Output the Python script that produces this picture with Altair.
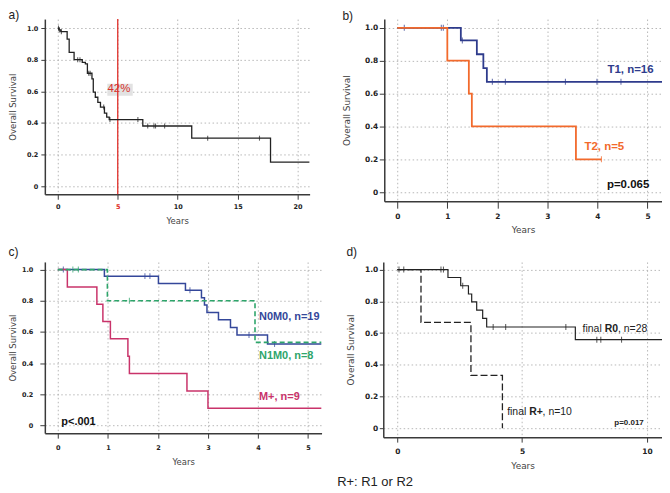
import altair as alt
import pandas as pd

# ---------------- data ----------------
Y_TICKS = [0, 0.2, 0.4, 0.6, 0.8, 1.0]

# panel a (all patients)
A_TIME = [0, 0.1, 0.25, 0.78, 0.95, 1.36, 2.04, 2.3, 2.47, 2.85, 2.96, 3.13, 3.34, 3.56, 3.89, 4.08, 4.29, 7.09, 11.17, 17.74, 21.0]
A_SURV = [1.0, 0.988, 0.977, 0.93, 0.846, 0.80, 0.783, 0.773, 0.714, 0.678, 0.594, 0.562, 0.53, 0.50, 0.461, 0.436, 0.421, 0.38, 0.303, 0.152, 0.152]
A_CENSOR = [0.06, 0.14, 0.3, 1.66, 1.85, 2.58, 2.7, 3.83, 4.35, 6.68, 7.5, 8.02, 8.15, 8.91, 12.5, 16.82]
A_REF_YEAR = [5]
A_REF_TEXT = ["42%"]
A_REF_POS = [5.1, 0.612]
A_REF_BOX = [4.13, 6.25, 0.572, 0.648]

# panel b (T stage)
T1_TIME = [0, 1.27, 1.59, 1.72, 1.79, 5.29]
T1_SURV = [1.0, 0.923, 0.839, 0.755, 0.671, 0.671]
T1_CENSOR = [0.14, 0.88, 0.92, 1.3, 1.9, 2.16, 3.36, 3.99, 4.47]
T2_TIME = [0, 1.0, 1.43, 1.49, 3.57, 4.08]
T2_SURV = [1.0, 0.8, 0.6, 0.4, 0.2, 0.2]
T2_CENSOR = [4.08]
B_TEXT = ["T1, n=16", "T2, n=5", "p=0.065"]
B_TEXT_X = [4.2, 3.74, 4.19]
B_TEXT_Y = [0.743, 0.273, 0.046]

# panel c (N/M stage)
N0_TIME = [0, 0.93, 2.01, 2.55, 2.87, 2.93, 2.98, 3.21, 3.45, 3.58, 4.19, 5.27]
N0_SURV = [1.0, 0.958, 0.911, 0.867, 0.82, 0.773, 0.725, 0.678, 0.629, 0.58, 0.523, 0.523]
N0_CENSOR = [0.11, 1.74, 1.84, 2.64, 3.82, 4.33]
N1_TIME = [0, 0.99, 3.94, 5.27]
N1_SURV = [1.0, 0.8, 0.533, 0.533]
N1_CENSOR = [0.3, 0.41, 1.43]
MP_TIME = [0, 0.19, 0.78, 0.9, 1.05, 1.40, 1.43, 2.58, 3.0, 5.27]
MP_SURV = [1.0, 0.889, 0.778, 0.667, 0.556, 0.444, 0.333, 0.222, 0.111, 0.111]
MP_CENSOR = []
C_TEXT = ["N0M0, n=19", "N1M0, n=8", "M+, n=9", "p<.001"]
C_TEXT_X = [4.02, 4.02, 4.02, 0.07]
C_TEXT_Y = [0.699, 0.445, 0.18, 0.025]

# panel d (resection status)
R0_TIME = [0, 2.03, 2.54, 2.85, 2.98, 3.18, 3.42, 3.58, 7.13, 10.6]
R0_SURV = [1.0, 0.95, 0.898, 0.846, 0.796, 0.744, 0.692, 0.638, 0.558, 0.558]
R0_CENSOR = [0.07, 0.26, 1.75, 1.85, 2.62, 3.84, 4.34, 6.75, 7.99, 8.15, 8.98]
RP_TIME = [0, 0.95, 2.95, 4.21]
RP_SURV = [1.0, 0.667, 0.333, 0.0]
RP_CENSOR = []
D_TEXT = [["final ", "R0", ", n=28"], ["final ", "R+", ", n=10"]]
D_TEXT_X = [7.42, 4.40]
D_TEXT_Y = [0.625, 0.104]
D_P_TEXT = ["p=0.017"]
D_P_POS = [9.87, 0.031]

FOOTNOTE = "R+: R1 or R2"

# ---------------- styling helpers ----------------
AX = "#3a3a3a"
GRID = dict(grid=True, gridDash=[1.5, 2.5], gridColor="#b0b0b0", gridWidth=0.9)
TXT_FONT = "Liberation Sans"


def step_value(times, surv, t):
    v = surv[0]
    for ti, si in zip(times, surv):
        if ti <= t:
            v = si
    return v


def y_axis(lab, tick, pad, ext, tp, tsize):
    return alt.Axis(values=Y_TICKS,
                    labelExpr="datum.value == 0 ? '0' : format(datum.value, '.1f')",
                    title="Overall Survival", titleFont="DejaVu Sans", titleFontSize=tsize,
                    titleFontWeight="normal", titleColor="#444",
                    labelFont="DejaVu Sans", labelFontSize=lab, labelFontWeight="bold",
                    labelColor="#222", tickSize=tick, tickColor=AX, tickWidth=1,
                    domainColor=AX, domainWidth=1.5, labelPadding=pad, titlePadding=tp,
                    minExtent=ext, maxExtent=ext, **GRID)


def x_axis(vals, lab, tick, pad, tp, tsize, label_color="#222"):
    return alt.Axis(values=vals, format="d", title="Years", titleFont="DejaVu Sans",
                    titleFontSize=tsize, titleFontWeight="normal", titleColor="#444",
                    labelFont="DejaVu Sans", labelFontSize=lab, labelFontWeight="bold",
                    labelColor=label_color, tickSize=tick, tickColor=AX, tickWidth=1,
                    domainColor=AX, domainWidth=1.5, labelPadding=pad, titlePadding=tp,
                    **GRID)


class Panel:
    def __init__(self, xdom, ydom, xax, yax):
        self.xs = alt.Scale(domain=xdom, nice=False, zero=False)
        self.ys = alt.Scale(domain=ydom, nice=False, zero=False)
        self.xax = xax
        self.yax = yax

    def x(self, f="t"):
        return alt.X(f"{f}:Q", scale=self.xs, axis=self.xax)

    def y(self, f="s"):
        return alt.Y(f"{f}:Q", scale=self.ys, axis=self.yax)

    def km(self, times, surv, censor, color, width=1.4, dash=None, tick=6):
        line_df = pd.DataFrame({"t": times, "s": surv})
        lk = dict(interpolate="step-after", color=color, strokeWidth=width, clip=True)
        if dash:
            lk["strokeDash"] = dash
        layers = [alt.Chart(line_df).mark_line(**lk).encode(x=self.x(), y=self.y())]
        if censor:
            cdf = pd.DataFrame({"t": censor, "s": [step_value(times, surv, c) for c in censor]})
            layers.append(alt.Chart(cdf).mark_tick(orient="vertical", color=color, size=tick,
                                                   thickness=1.1).encode(x=self.x(), y=self.y()))
        return layers

    def text(self, txt, t, s, color, size, weight="bold", align="left", dx=0, font=TXT_FONT):
        df = pd.DataFrame({"t": [t], "s": [s], "txt": [txt]})
        return alt.Chart(df).mark_text(align=align, baseline="middle", color=color,
                                       fontSize=size, fontWeight=weight, font=font,
                                       dx=dx).encode(x=self.x(), y=self.y(), text="txt:N")


def ptitle(letter, offset):
    return alt.TitleParams(letter, anchor="start", frame="bounds", fontSize=12,
                           fontWeight="normal", font=TXT_FONT, color="#222", offset=offset)


# ---------------- panel a ----------------
pa = Panel([-1.08, 21.0], [-0.052, 1.057],
           x_axis([0, 5, 10, 15, 20], 6.5, 5, 4, 7, 8.5,
                  label_color={"condition": {"test": "datum.value == 5", "value": "#e0302a"},
                               "value": "#222"}),
           y_axis(6.5, 4, 3, 18, 9.5, 8.5))
a_box = alt.Chart(pd.DataFrame({"t": [A_REF_BOX[0]], "t2": [A_REF_BOX[1]],
                                "s": [A_REF_BOX[2]], "s2": [A_REF_BOX[3]]})).mark_rect(
    color="#e2e2e2").encode(x=pa.x(), x2="t2:Q", y=pa.y(), y2="s2:Q")
a_rule = alt.Chart(pd.DataFrame({"t": A_REF_YEAR})).mark_rule(color="#e0302a", strokeWidth=1.3).encode(x=pa.x())
a_lab = pa.text(A_REF_TEXT[0], A_REF_POS[0], A_REF_POS[1], "#d8322c", 11.5, weight="normal", align="center")
chart_a = alt.layer(a_box, a_rule, *pa.km(A_TIME, A_SURV, A_CENSOR, "#222222", 1.3, tick=5), a_lab).properties(
    width=266, height=176, title=ptitle("a)", -4))

# ---------------- panel b ----------------
pb = Panel([-0.26, 5.29], [-0.055, 1.053],
           x_axis([0, 1, 2, 3, 4, 5], 7.5, 7, 4, 6, 9),
           y_axis(7.5, 5, 1.5, 20, 13, 9))
B_COL = ["#2e3b8c", "#f26a2c", "#111111"]
chart_b = alt.layer(
    *pb.km(T1_TIME, T1_SURV, T1_CENSOR, B_COL[0], 1.8),
    *pb.km(T2_TIME, T2_SURV, T2_CENSOR, B_COL[1], 1.8),
    *[pb.text(t, x, y, c, 11.5) for t, x, y, c in zip(B_TEXT, B_TEXT_X, B_TEXT_Y, B_COL)],
).properties(width=279, height=183, title=ptitle("b)", -4))

# ---------------- panel c ----------------
pc = Panel([-0.26, 5.27], [-0.049, 1.049],
           x_axis([0, 1, 2, 3, 4, 5], 6.5, 5, 6, 7, 8.5),
           y_axis(6.5, 5, 7, 22, 5.5, 8.5))
C_COL = ["#34479a", "#2ea56b", "#c9336a", "#111111"]
chart_c = alt.layer(
    *pc.km(N0_TIME, N0_SURV, N0_CENSOR, C_COL[0], 1.5),
    *pc.km(MP_TIME, MP_SURV, MP_CENSOR, C_COL[2], 1.5),
    *pc.km(N1_TIME, N1_SURV, N1_CENSOR, C_COL[1], 1.6, dash=[5, 3]),
    *[pc.text(t, x, y, c, 11) for t, x, y, c in zip(C_TEXT, C_TEXT_X, C_TEXT_Y, C_COL)],
).properties(width=278, height=172, title=ptitle("c)", 3))

# ---------------- panel d ----------------
pd_ = Panel([-0.56, 10.6], [-0.056, 1.048],
            x_axis([0, 5, 10], 7.5, 5, 5, 7, 9),
            y_axis(7.5, 4, 1.5, 20, 8, 9))
d_texts = []
for parts, x, y in zip(D_TEXT, D_TEXT_X, D_TEXT_Y):
    d_texts.append(pd_.text(parts[0], x, y, "#222", 10.5, weight="normal"))
    d_texts.append(pd_.text(parts[1], x, y, "#222", 10.5, weight="bold", dx=22.2))
    d_texts.append(pd_.text(parts[2], x, y, "#222", 10.5, weight="normal", dx=35.6))
chart_d = alt.layer(
    *pd_.km(R0_TIME, R0_SURV, R0_CENSOR, "#222222", 1.2),
    *pd_.km(RP_TIME, RP_SURV, RP_CENSOR, "#222222", 1.3, dash=[7, 3]),
    *d_texts,
    pd_.text(D_P_TEXT[0], D_P_POS[0], D_P_POS[1], "#222", 8, align="right"),
).properties(width=280, height=176, title=ptitle("d)", 3))

row1 = alt.hconcat(chart_a, chart_b, spacing=33)
row2 = alt.hconcat(chart_c, chart_d, spacing=25)
chart = alt.vconcat(row1, row2, spacing=11).properties(
    padding=0,
    title=alt.TitleParams(FOOTNOTE, orient="bottom", anchor="middle", fontSize=13,
                          fontWeight="normal", font=TXT_FONT, color="#222", offset=6, dx=40),
).configure_view(stroke=None)

chart.save("out.html", embed_options={"renderer": "svg", "actions": False})
